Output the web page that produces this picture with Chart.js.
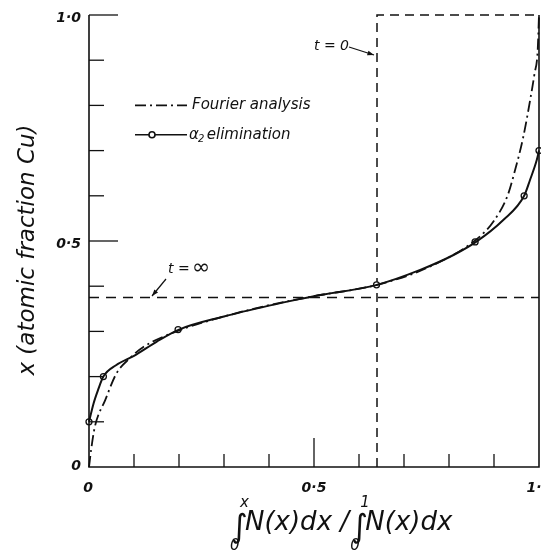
<!DOCTYPE html>
<html lang="en">
<head>
    <meta charset="UTF-8">
    <title>Composition profile</title>
    <script src="https://cdn.jsdelivr.net/npm/chart.js"></script>
    <style>
        body {
            margin: 0;
            background: #fff;
        }
        #wrap {
            width: 541px;
            height: 554px;
        }
    </style>
</head>
<body>
    <div id="wrap">
        <canvas id="myChart" width="541" height="554"></canvas>
    </div>

    <script>
        // Fourier analysis curve (dash-dot)
        const fourierX = [0, 0.005, 0.013, 0.036, 0.061, 0.09, 0.12, 0.2, 0.3, 0.4, 0.5, 0.64, 0.75, 0.865, 0.9, 0.93, 0.945, 0.965, 0.98, 0.99, 0.997, 1.0];
        const fourierY = [0, 0.04, 0.089, 0.148, 0.207, 0.24, 0.265, 0.302, 0.333, 0.358, 0.378, 0.403, 0.44, 0.507, 0.545, 0.6, 0.65, 0.73, 0.81, 0.87, 0.92, 1.0];

        // alpha2 elimination curve (solid) and its measured points
        const alphaX = [0, 0.01, 0.02, 0.032, 0.06, 0.1, 0.15, 0.2, 0.3, 0.4, 0.47, 0.5, 0.64, 0.736, 0.81, 0.86, 0.92, 0.967, 0.98, 0.995, 1.0];
        const alphaY = [0.1, 0.14, 0.17, 0.2, 0.225, 0.246, 0.277, 0.304, 0.333, 0.357, 0.372, 0.378, 0.403, 0.436, 0.469, 0.498, 0.546, 0.6, 0.635, 0.679, 0.7];
        const markX = [0, 0.032, 0.198, 0.639, 0.858, 0.967, 1.0];
        const markY = [0.1, 0.2, 0.304, 0.403, 0.498, 0.6, 0.7];

        // initial (t = 0) and final (t = infinity) profiles
        const t0X = [0.64, 0.64, 1.0];
        const t0Y = [0, 1.0, 1.0];
        const tInfX = [0, 1.0];
        const tInfY = [0.375, 0.375];

        const xTicks = [0, 0.1, 0.2, 0.3, 0.4, 0.5, 0.6, 0.7, 0.8, 0.9, 1.0];
        const yTicks = [0, 0.1, 0.2, 0.3, 0.4, 0.5, 0.6, 0.7, 0.8, 0.9, 1.0];
        const xLabelVals = [0, 0.5, 1.0];
        const xLabels = ['0', '0·5', '1·0'];
        const yLabelVals = [0, 0.5, 1.0];
        const yLabels = ['0', '0·5', '1·0'];

        const pts = (xs, ys) => xs.map((x, i) => ({ x: x, y: ys[i] }));
        const FONT = '"DejaVu Sans", sans-serif';

        const drawExtras = {
            id: 'drawExtras',
            afterDatasetsDraw(chart) {
                const ctx = chart.ctx;
                const xs = chart.scales.x;
                const ys = chart.scales.y;
                const px = v => xs.getPixelForValue(v);
                const py = v => ys.getPixelForValue(v);
                ctx.save();
                ctx.strokeStyle = '#111';
                ctx.fillStyle = '#111';
                ctx.lineWidth = 1.6;
                ctx.setLineDash([]);

                // axes + right edge
                ctx.beginPath();
                ctx.moveTo(px(0), py(1));
                ctx.lineTo(px(0), py(0));
                ctx.lineTo(px(1), py(0));
                ctx.lineTo(px(1), py(1));
                ctx.stroke();

                // ticks
                ctx.lineWidth = 1.3;
                yTicks.forEach(v => {
                    const len = (v === 0.5 || v === 1.0) ? 29 : 15;
                    if (v === 0) return;
                    ctx.beginPath();
                    ctx.moveTo(px(0), py(v));
                    ctx.lineTo(px(0) + len, py(v));
                    ctx.stroke();
                });
                xTicks.forEach(v => {
                    if (v === 0 || v === 1.0) return;
                    const len = v === 0.5 ? 29 : 13;
                    ctx.beginPath();
                    ctx.moveTo(px(v), py(0));
                    ctx.lineTo(px(v), py(0) - len);
                    ctx.stroke();
                });

                // tick labels
                ctx.font = 'italic bold 14px ' + FONT;
                ctx.textBaseline = 'middle';
                ctx.textAlign = 'right';
                yLabelVals.forEach((v, i) => {
                    ctx.fillText(yLabels[i], px(0) - 8, py(v) + (v === 0 ? -1 : 3));
                });
                ctx.textAlign = 'center';
                xLabelVals.forEach((v, i) => {
                    ctx.fillText(xLabels[i], px(v) + (v === 0 ? -1 : 0), py(0) + 21);
                });

                // y-axis title
                ctx.save();
                ctx.translate(28, 250);
                ctx.rotate(-Math.PI / 2);
                ctx.font = 'italic 23px ' + FONT;
                ctx.textAlign = 'center';
                ctx.fillText('x (atomic fraction Cu)', 0, 0);
                ctx.restore();

                // x-axis title: integral ratio
                ctx.textAlign = 'left';
                ctx.textBaseline = 'alphabetic';
                let cx = 231;
                const base = 530;
                const drawIntegral = (upper) => {
                    ctx.font = 'italic 32px ' + FONT;
                    ctx.fillText('∫', cx, base + 7);
                    ctx.font = 'italic 15px ' + FONT;
                    ctx.fillText(upper, cx + 9, base - 23);
                    ctx.fillText('0', cx - 1, base + 20);
                    cx += 14;
                    ctx.font = 'italic 26px ' + FONT;
                    ctx.fillText('N(x)dx', cx, base);
                    cx += ctx.measureText('N(x)dx').width;
                };
                drawIntegral('x');
                ctx.font = 'italic 26px ' + FONT;
                ctx.fillText(' / ', cx, base);
                cx += ctx.measureText(' / ').width - 6;
                drawIntegral('1');

                // legend
                ctx.lineWidth = 1.6;
                ctx.setLineDash([11, 4, 2, 4]);
                ctx.beginPath();
                ctx.moveTo(135, py(0.8));
                ctx.lineTo(187, py(0.8));
                ctx.stroke();
                ctx.setLineDash([]);
                ctx.beginPath();
                ctx.moveTo(135, py(0.735));
                ctx.lineTo(187, py(0.735));
                ctx.stroke();
                ctx.beginPath();
                ctx.fillStyle = '#fff';
                ctx.arc(152, py(0.735), 3, 0, Math.PI * 2);
                ctx.fill();
                ctx.stroke();
                ctx.fillStyle = '#111';
                ctx.font = 'italic 15px ' + FONT;
                ctx.textBaseline = 'middle';
                ctx.fillText('Fourier analysis', 192, py(0.8));
                ctx.fillText('α', 189, py(0.735));
                ctx.font = 'italic 10px ' + FONT;
                ctx.fillText('2', 198, py(0.735) + 5);
                ctx.font = 'italic 15px ' + FONT;
                ctx.fillText(' elimination', 202, py(0.735));

                // t = 0 and t = infinity labels with arrows
                ctx.font = 'italic 14px ' + FONT;
                ctx.fillText('t = 0', 314, 46);
                ctx.fillText('t =', 168, 269);
                ctx.font = '22px ' + FONT;
                ctx.fillText('∞', 192, 268);
                const arrow = (x1, y1, x2, y2) => {
                    ctx.lineWidth = 1.2;
                    ctx.beginPath();
                    ctx.moveTo(x1, y1);
                    ctx.lineTo(x2, y2);
                    ctx.stroke();
                    const a = Math.atan2(y2 - y1, x2 - x1);
                    ctx.beginPath();
                    ctx.moveTo(x2, y2);
                    ctx.lineTo(x2 - 7 * Math.cos(a - 0.35), y2 - 7 * Math.sin(a - 0.35));
                    ctx.lineTo(x2 - 7 * Math.cos(a + 0.35), y2 - 7 * Math.sin(a + 0.35));
                    ctx.closePath();
                    ctx.fill();
                };
                arrow(349, 47, 374, 55);
                arrow(166, 279, 152, 296);
                ctx.restore();
            }
        };

        const ctx = document.getElementById('myChart').getContext('2d');
        const myChart = new Chart(ctx, {
            type: 'scatter',
            data: {
                datasets: [
                    {
                        label: 'Fourier analysis',
                        data: pts(fourierX, fourierY),
                        showLine: true,
                        borderColor: '#111',
                        borderWidth: 1.8,
                        borderDash: [11, 4, 2, 4],
                        pointRadius: 0,
                        cubicInterpolationMode: 'monotone',
                        clip: 5
                    },
                    {
                        label: 'alpha2 elimination',
                        data: pts(alphaX, alphaY),
                        showLine: true,
                        borderColor: '#111',
                        borderWidth: 2,
                        pointRadius: 0,
                        cubicInterpolationMode: 'monotone',
                        clip: 5
                    },
                    {
                        label: 'alpha2 points',
                        data: pts(markX, markY),
                        showLine: false,
                        pointRadius: 3,
                        pointBackgroundColor: '#fff',
                        pointBorderColor: '#111',
                        pointBorderWidth: 1.3,
                        clip: 6
                    },
                    {
                        label: 't = 0',
                        data: pts(t0X, t0Y),
                        showLine: true,
                        borderColor: '#111',
                        borderWidth: 1.5,
                        borderDash: [9, 6],
                        pointRadius: 0,
                        clip: 5
                    },
                    {
                        label: 't = inf',
                        data: pts(tInfX, tInfY),
                        showLine: true,
                        borderColor: '#111',
                        borderWidth: 1.5,
                        borderDash: [10, 7],
                        pointRadius: 0,
                        clip: 5
                    }
                ]
            },
            options: {
                responsive: false,
                animation: false,
                layout: {
                    autoPadding: false,
                    padding: { left: 89, right: 2, top: 15, bottom: 87 }
                },
                scales: {
                    x: { type: 'linear', min: 0, max: 1, display: false },
                    y: { type: 'linear', min: 0, max: 1, display: false }
                },
                plugins: {
                    legend: { display: false },
                    tooltip: { enabled: false }
                }
            },
            plugins: [drawExtras]
        });
    </script>
</body>
</html>
